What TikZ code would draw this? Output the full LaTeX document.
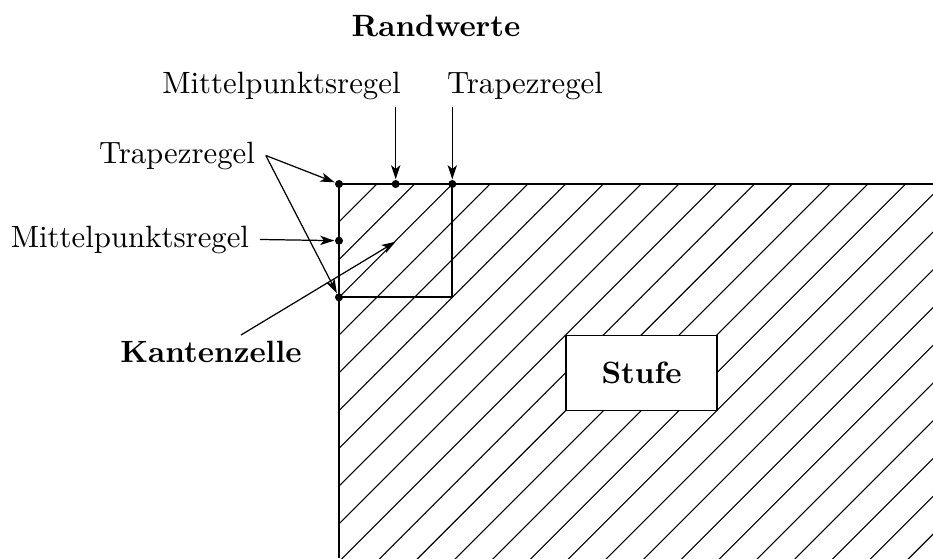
\documentclass[tikz,border=0pt]{standalone}
\usetikzlibrary{arrows.meta}
\begin{document}
\begin{tikzpicture}[x=0.3247pt,y=-0.3247pt,
  lbl/.style={inner sep=3.33pt,anchor=base},
  blbl/.style={inner sep=3.33pt,anchor=base,font=\bfseries},
  pt/.style={circle,fill=black,inner sep=0pt,minimum size=2.6pt},
  arr/.style={line width=0.4pt,-{Stealth[length=4.6pt,width=3pt,inset=1.2pt]}},
  edge/.style={line width=0.6pt},
  hatch/.style={line width=0.35pt}]
\useasboundingbox (0,0) rectangle (933,558);
% hatching (lines rising to the right)
\begin{scope}
\clip (339,184) rectangle (933,558);
\foreach \k in {-4,...,24}{
  \pgfmathsetmacro\hc{636.3+\k*37.77}
  \draw[hatch] ({\hc-620},620) -- ({\hc-150},150);
}
\end{scope}
% region edges
\draw[edge] (933,184) -- (339,184) -- (339,558);
% cell
\draw[line width=0.55pt] (339,297.3) -- (452.3,297.3) -- (452.3,184);
% Stufe
\node[draw,fill=white,line width=0.5pt,minimum width=49pt,minimum height=24.4pt,font=\bfseries,inner sep=0pt] (stufe) at (641.6,373) {Stufe};
% dots
\node[pt] (d1) at (339,184) {};
\node[pt] (d2) at (395.7,184) {};
\node[pt] (d3) at (452.3,184) {};
\node[pt] (d4) at (339,240.7) {};
\node[pt] (d5) at (339,297.3) {};
\coordinate (cellc) at (395.7,241.7);
% labels
\node[blbl] (rw) at (436,36.7) {Randwerte};
\node[lbl] (mpt) at (281.5,93) {Mittelpunktsregel};
\node[lbl] (tpt) at (525,93) {Trapezregel};
\node[lbl] (tpl) at (177,163) {Trapezregel};
\node[lbl] (mpl) at (130,247) {Mittelpunktsregel};
\node[blbl] (kz) at (211,362) {Kantenzelle};
\coordinate (kzs) at (241,335);
% arrows
\draw[arr] ([yshift=1pt]mpt.south -| d2) -- (d2);
\draw[arr] ([yshift=1pt]tpt.south -| d3) -- (d3);
\draw[arr] (tpl.east) -- (d1);
\draw[arr] (tpl.east) -- (d5);
\draw[arr] (mpl.east) -- (d4);
\draw[arr] (kzs) -- (cellc);
\end{tikzpicture}
\end{document}
